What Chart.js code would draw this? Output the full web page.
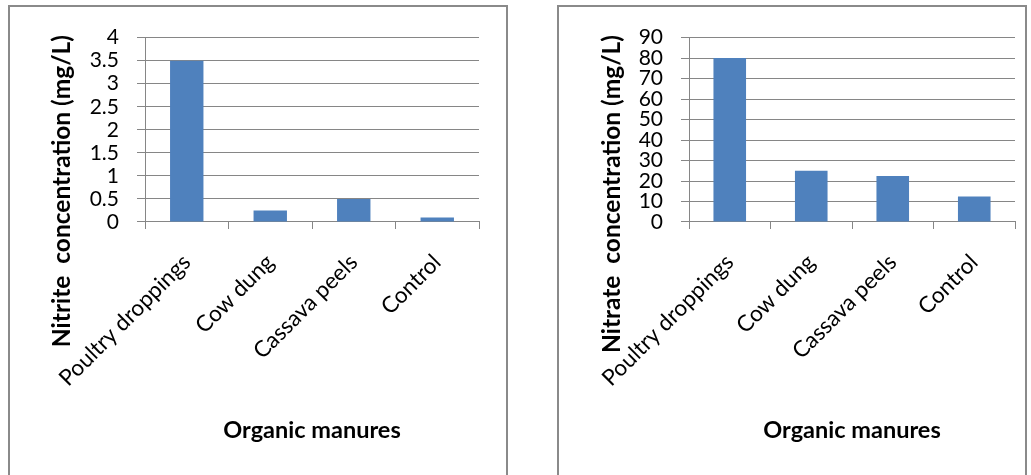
<!DOCTYPE html>
<html>
<head>
<meta charset="utf-8">
<script src="https://cdn.jsdelivr.net/npm/chart.js@4.4.1/dist/chart.umd.min.js"></script>
<style>
  html, body { margin: 0; padding: 0; background: #fff; width: 1031px; height: 475px; overflow: hidden; }
  .frame { position: absolute; top: 5px; height: 500px; border: 2px solid #8a8a8a; box-sizing: border-box; background: #fff; }
  #frameNitrite { left: 8px; width: 500px; }
  #frameNitrate { left: 557px; width: 470px; }
  canvas { position: absolute; }
  #nitriteChart { left: 10px; top: 7px; }
  #nitrateChart { left: 560px; top: 7px; }
</style>
</head>
<body>
<div class="frame" id="frameNitrite"></div>
<div class="frame" id="frameNitrate"></div>
<canvas id="nitriteChart" width="496" height="466"></canvas>
<canvas id="nitrateChart" width="465" height="466"></canvas>
<script>
// Treatments on the x axis
const manures = ['Poultry droppings', 'Cow dung', 'Cassava peels', 'Control'];

// Measured concentrations (mg/L)
const nitrite = [3.5, 0.25, 0.5, 0.1];
const nitrate = [80, 25, 22.5, 12.5];

// Value axis ranges: [min, max, step]
const nitriteAxis = [0, 4, 0.5];
const nitrateAxis = [0, 90, 10];

// Axis titles
const nitriteTitle = 'Nitrite  concentration (mg/L)';
const nitrateTitle = 'Nitrate  concentration (mg/L)';
const xTitle = 'Organic manures';

const FONT = 'Lato, "Open Sans", sans-serif';
const GRID = '#868686';
const BAR = '#4f81bd';

function makeChart(id, values, yTitle, axis, geom) {
  return new Chart(document.getElementById(id), {
    type: 'bar',
    data: {
      labels: manures,
      datasets: [{
        data: values,
        backgroundColor: BAR,
        borderWidth: 0,
        barPercentage: 0.4,
        categoryPercentage: 1
      }]
    },
    options: {
      responsive: false,
      animation: false,
      layout: { padding: { left: 0, top: 28, right: geom.padRight, bottom: 20 } },
      plugins: {
        legend: { display: false },
        tooltip: { enabled: false },
        // value-axis title, hung from the top edge of the plot
        title: {
          display: true,
          position: 'left',
          align: 'end',
          text: yTitle,
          color: '#000',
          font: { family: FONT, size: 24.5, weight: 'bold' },
          padding: { top: 37.3, bottom: 0 }
        }
      },
      scales: {
        x: {
          grid: { display: true, drawOnChartArea: false, drawTicks: true, tickLength: 7, color: GRID, offset: true },
          border: { color: GRID, width: 1 },
          ticks: {
            color: '#000',
            font: { family: FONT, size: 22.5 },
            minRotation: 45,
            maxRotation: 45,
            autoSkip: false,
            padding: 20
          },
          title: {
            display: true,
            text: xTitle,
            color: '#000',
            font: { family: FONT, size: 23.5, weight: 'bold' },
            padding: { top: 0, bottom: 8.9 }
          },
          afterFit: s => { s.height = 231; }
        },
        y: {
          min: axis[0],
          max: axis[1],
          ticks: {
            stepSize: axis[2],
            autoSkip: false,
            color: '#000',
            font: { family: FONT, size: 21 },
            padding: 18,
            callback: v => String(v)
          },
          grid: { color: GRID, lineWidth: 1, drawTicks: true, tickLength: 8 },
          border: { color: GRID, width: 1 },
          afterFit: s => { s.width = geom.yWidth; }
        }
      }
    }
  });
}

function draw() {
  makeChart('nitriteChart', nitrite, nitriteTitle, nitriteAxis, { padRight: 27, yWidth: 68.3 });
  makeChart('nitrateChart', nitrate, nitrateTitle, nitrateAxis, { padRight: 10, yWidth: 62.3 });
}

Promise.all([
  document.fonts.load('21px Lato'),
  document.fonts.load('bold 24px Lato')
]).then(draw, draw);
</script>
</body>
</html>
